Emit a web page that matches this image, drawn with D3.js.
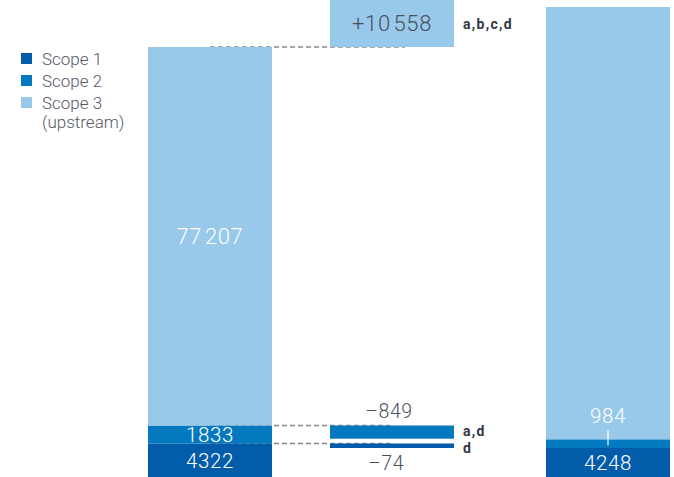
<!DOCTYPE html>
<html><head><meta charset="utf-8">
<script src="https://cdn.jsdelivr.net/npm/d3@7"></script>
<style>
html,body{margin:0;padding:0;background:#fff;}
svg{display:block;}
text{font-family:Roboto,"Noto Sans",sans-serif;}
</style></head>
<body>
<svg id="chart" width="674" height="477"></svg>
<script>
// ---- data ----
const scopes = ["Scope 1", "Scope 2", "Scope 3 (upstream)"];
const legendLines = [["Scope 1"], ["Scope 2"], ["Scope 3", "(upstream)"]];
const startValues = [4322, 1833, 77207];
const changeValues = [-74, -849, 10558];
const endValues = [4248, 984, 87765];
const changeNotes = ["d", "a,d", "a,b,c,d"];
const columns = ["start", "change", "end"];

// ---- styles / layout ----
const colors = ["#035ca9", "#0479c0", "#98c8ea"];
const svg = d3.select("#chart");

const x = d3.scaleOrdinal().domain(columns).range([148, 330, 546]);
const barW = 124;

// cumulative anchor values
const s1a = startValues[0], s2a = s1a + startValues[1], totA = s2a + startValues[2];
const s1b = endValues[0], s2b = s1b + endValues[1], totB = s2b + endValues[2];
const midS2 = s2a + changeValues[1];
const topChange = totA + changeValues[2];
// stylised (non-linear) value axis: small scopes are enlarged for legibility
const y = d3.scaleLinear()
  .domain([0, s1b, s1a, s2b, midS2, s2a, totA, totB, topChange])
  .range([477, 448, 443.5, 439.3, 438.7, 425.5, 47, 7, 0]);

const fmt = v => {
  const a = Math.abs(v);
  return a >= 10000 ? d3.format(",")(a).replace(/,/g, "\u200A") : String(a);
};

function stack(vals) {
  let acc = 0;
  return vals.map((v, i) => { const d = {i, v, y0: acc, y1: acc + v}; acc += v; return d; });
}
const left = stack(startValues);
const right = stack(endValues);
const mid = [
  {i: 0, v: changeValues[0], y0: s1a + changeValues[0], y1: s1a},
  {i: 1, v: changeValues[1], y0: midS2, y1: s2a},
  {i: 2, v: changeValues[2], y0: totA, y1: topChange}
];

// connectors
const dash = svg.append("g").attr("stroke", "#8a8a8a").attr("stroke-width", 1.4)
  .attr("stroke-dasharray", "5,3").attr("fill", "none");
const cxL = x("start") + barW / 2, cxM = x("change") + barW / 2;
[[totA, cxM + 13], [s2a, cxM - 2], [s1a, cxM - 2]].forEach(([v, xe]) => {
  dash.append("line").attr("x1", cxL).attr("x2", xe).attr("y1", y(v)).attr("y2", y(v));
});

function drawBars(data, col) {
  svg.append("g").selectAll("rect").data(data).join("rect")
    .attr("x", x(col)).attr("width", barW)
    .attr("y", d => y(d.y1)).attr("height", d => y(d.y0) - y(d.y1))
    .attr("fill", d => colors[d.i]);
}
drawBars(left, "start");
drawBars(mid, "change");
drawBars(right, "end");

const numStyle = (t, size) => t.attr("font-size", size).attr("font-weight", 300).attr("letter-spacing", 0.6);

// labels inside left bar
const sizes = [20.5, 20.5, 22];
left.forEach(d => {
  numStyle(svg.append("text").attr("x", cxL).attr("y", (y(d.y0) + y(d.y1)) / 2)
    .attr("dy", "0.36em").attr("text-anchor", "middle").attr("fill", "#fff"), sizes[d.i])
    .text(fmt(d.v));
});

// right bar labels
const cxR = x("end") + barW / 2;
numStyle(svg.append("text").attr("x", cxR).attr("y", (y(right[0].y0) + y(right[0].y1)) / 2)
  .attr("dy", "0.38em").attr("text-anchor", "middle").attr("fill", "#fff"), 20.5)
  .text(fmt(right[0].v));
numStyle(svg.append("text").attr("x", cxR).attr("y", y(right[1].y1) - 16.6)
  .attr("text-anchor", "middle").attr("fill", "#fff"), 20.5)
  .text(fmt(right[1].v));
svg.append("line").attr("x1", cxR).attr("x2", cxR)
  .attr("y1", y(right[1].y1) - 9).attr("y2", y(right[1].y1) + 6)
  .attr("stroke", "#fff").attr("stroke-width", 1.2);

// change labels
const txtCol = "#4b505d";
numStyle(svg.append("text").attr("x", cxM).attr("y", (y(mid[2].y0) + y(mid[2].y1)) / 2)
  .attr("dy", "0.36em").attr("text-anchor", "middle").attr("fill", txtCol), 22)
  .text("+" + fmt(mid[2].v));
numStyle(svg.append("text").attr("x", cxM - 3).attr("y", y(mid[1].y1) - 8)
  .attr("text-anchor", "middle").attr("fill", txtCol), 19.5)
  .text("\u2013" + fmt(mid[1].v));
numStyle(svg.append("text").attr("x", cxM - 6).attr("y", y(mid[0].y0) + 21.5)
  .attr("text-anchor", "middle").attr("fill", txtCol), 19.5)
  .text("\u2013" + fmt(mid[0].v));

// notes
const noteX = x("change") + barW + 9;
const noteY = [y(mid[0].y1) + 9.5, (y(mid[1].y0) + y(mid[1].y1)) / 2 + 3.5, (y(mid[2].y0) + y(mid[2].y1)) / 2 + 5];
changeNotes.forEach((n, i) => {
  svg.append("text").attr("x", noteX).attr("y", noteY[i])
    .attr("fill", "#333744").attr("font-size", 14).attr("font-weight", 700)
    .attr("letter-spacing", 1.3)
    .text(n);
});

// legend
const lg = svg.append("g");
legendLines.forEach((lines, i) => {
  lg.append("rect").attr("x", 21).attr("y", 53 + i * 22).attr("width", 11).attr("height", 11)
    .attr("fill", colors[i]);
  lines.forEach((t, j) => {
    lg.append("text").attr("x", 42).attr("y", 64.5 + i * 22 + j * 19)
      .attr("fill", "#545969").attr("font-size", 17).attr("font-weight", 300)
      .text(t);
  });
});
</script>
</body></html>
